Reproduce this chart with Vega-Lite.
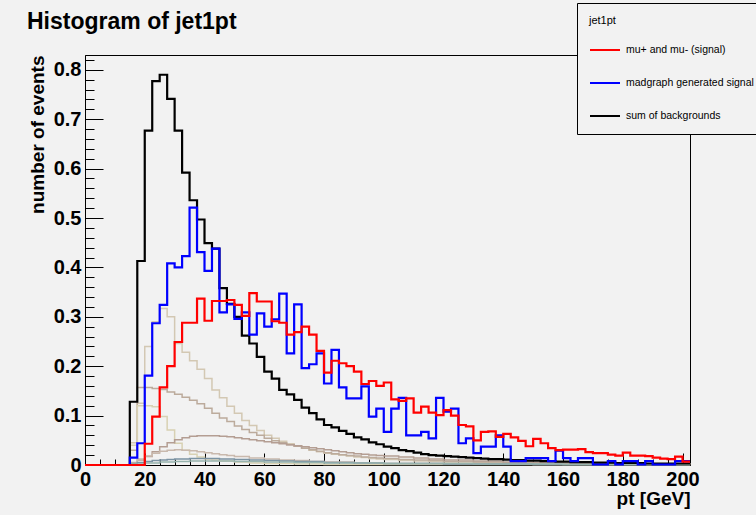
{
  "$schema": "https://vega.github.io/schema/vega-lite/v6.json",
  "width": 605,
  "height": 410,
  "autosize": "none",
  "padding": {"left": 85, "top": 55, "right": 66, "bottom": 50},
  "background": "#f2f2f2",
  "config": {
    "view": {"stroke": "black", "strokeWidth": 1, "fill": "#f2f2f2"},
    "font": "Liberation Sans",
    "axis": {"grid": false, "domainColor": "black", "tickColor": "black", "labelColor": "black", "titleColor": "black", "labelFont": "Liberation Sans", "titleFont": "Liberation Sans", "labelFontWeight": "bold", "titleFontWeight": "bold"}
  },
  "title": {"text": "Histogram of jet1pt", "anchor": "start", "frame": "group", "dx": -58, "dy": 52, "offset": 21, "fontSize": 23, "fontWeight": "bold", "font": "Liberation Sans", "color": "black"},
  "datasets": {
    "red": [
      {"x":0,"v":0},{"x":20,"v":0.043},{"x":22.5,"v":0.098},{"x":25,"v":0.157},{"x":27.5,"v":0.200},{"x":30,"v":0.249},{"x":32.5,"v":0.288},{"x":35,"v":0.288},{"x":37.5,"v":0.337},{"x":40,"v":0.292},{"x":42.5,"v":0.332},{"x":45,"v":0.332},{"x":47.5,"v":0.334},{"x":50,"v":0.324},{"x":52.5,"v":0.302},{"x":55,"v":0.348},{"x":57.5,"v":0.331},{"x":60,"v":0.331},{"x":62.5,"v":0.291},{"x":65,"v":0.288},{"x":67.5,"v":0.264},{"x":70,"v":0.269},{"x":72.5,"v":0.280},{"x":75,"v":0.264},{"x":77.5,"v":0.231},{"x":80,"v":0.187},{"x":82.5,"v":0.211},{"x":85,"v":0.206},{"x":87.5,"v":0.200},{"x":90,"v":0.189},{"x":92.5,"v":0.164},{"x":95,"v":0.170},{"x":97.5,"v":0.160},{"x":100,"v":0.167},{"x":102.5,"v":0.133},{"x":105,"v":0.130},{"x":107.5,"v":0.135},{"x":110,"v":0.106},{"x":112.5,"v":0.118},{"x":115,"v":0.106},{"x":117.5,"v":0.101},{"x":120,"v":0.111},{"x":122.5,"v":0.100},{"x":125,"v":0.081},{"x":127.5,"v":0.078},{"x":130,"v":0.050},{"x":132.5,"v":0.067},{"x":135,"v":0.068},{"x":137.5,"v":0.057},{"x":140,"v":0.063},{"x":142.5,"v":0.056},{"x":145,"v":0.049},{"x":147.5,"v":0.038},{"x":150,"v":0.053},{"x":152.5,"v":0.044},{"x":155,"v":0.034},{"x":157.5,"v":0.030},{"x":160,"v":0.031},{"x":162.5,"v":0.031},{"x":165,"v":0.032},{"x":167.5,"v":0.026},{"x":170,"v":0.024},{"x":172.5,"v":0.024},{"x":175,"v":0.021},{"x":177.5,"v":0.019},{"x":180,"v":0.025},{"x":182.5,"v":0.019},{"x":185,"v":0.019},{"x":187.5,"v":0.018},{"x":190,"v":0.015},{"x":192.5,"v":0.013},{"x":195,"v":0.012},{"x":197.5,"v":0.017},{"x":200,"v":0.007},{"x":202.5,"v":0.007}
    ],
    "blue": [
      {"x":0,"v":0},{"x":15,"v":0.015},{"x":17.5,"v":0.044},{"x":20,"v":0.181},{"x":22.5,"v":0.287},{"x":25,"v":0.324},{"x":27.5,"v":0.408},{"x":30,"v":0.400},{"x":32.5,"v":0.423},{"x":35,"v":0.521},{"x":37.5,"v":0.431},{"x":40,"v":0.393},{"x":42.5,"v":0.438},{"x":45,"v":0.309},{"x":47.5,"v":0.325},{"x":50,"v":0.296},{"x":52.5,"v":0.309},{"x":55,"v":0.264},{"x":57.5,"v":0.307},{"x":60,"v":0.280},{"x":62.5,"v":0.295},{"x":65,"v":0.347},{"x":67.5,"v":0.226},{"x":70,"v":0.325},{"x":72.5,"v":0.196},{"x":75,"v":0.204},{"x":77.5,"v":0.226},{"x":80,"v":0.165},{"x":82.5,"v":0.233},{"x":85,"v":0.157},{"x":87.5,"v":0.135},{"x":90,"v":0.135},{"x":92.5,"v":0.159},{"x":95,"v":0.098},{"x":97.5,"v":0.114},{"x":100,"v":0.067},{"x":102.5,"v":0.114},{"x":105,"v":0.136},{"x":107.5,"v":0.060},{"x":110,"v":0.060},{"x":112.5,"v":0.067},{"x":115,"v":0.054},{"x":117.5,"v":0.136},{"x":120,"v":0.108},{"x":122.5,"v":0.114},{"x":125,"v":0.044},{"x":127.5,"v":0.054},{"x":130,"v":0.024},{"x":132.5,"v":0.037},{"x":135,"v":0.037},{"x":137.5,"v":0.060},{"x":140,"v":0.037},{"x":142.5,"v":0.008},{"x":145,"v":0.008},{"x":147.5,"v":0.014},{"x":150,"v":0.014},{"x":152.5,"v":0.014},{"x":155,"v":0.008},{"x":157.5,"v":0.029},{"x":160,"v":0.014},{"x":162.5,"v":0.008},{"x":165,"v":0.014},{"x":167.5,"v":0.014},{"x":170,"v":0.001},{"x":172.5,"v":0.001},{"x":175,"v":0.008},{"x":177.5,"v":0.001},{"x":180,"v":0.008},{"x":182.5,"v":0.008},{"x":185,"v":0.001},{"x":187.5,"v":0.008},{"x":190,"v":0.001},{"x":192.5,"v":0.001},{"x":195,"v":0.001},{"x":197.5,"v":0.008},{"x":200,"v":0.008},{"x":202.5,"v":0.008}
    ],
    "black": [
      {"x":0,"v":0},{"x":15,"v":0.128},{"x":17.5,"v":0.413},{"x":20,"v":0.677},{"x":22.5,"v":0.777},{"x":25,"v":0.790},{"x":27.5,"v":0.741},{"x":30,"v":0.677},{"x":32.5,"v":0.592},{"x":35,"v":0.536},{"x":37.5,"v":0.497},{"x":40,"v":0.449},{"x":42.5,"v":0.438},{"x":45,"v":0.358},{"x":47.5,"v":0.326},{"x":50,"v":0.300},{"x":52.5,"v":0.262},{"x":55,"v":0.246},{"x":57.5,"v":0.219},{"x":60,"v":0.189},{"x":62.5,"v":0.175},{"x":65,"v":0.152},{"x":67.5,"v":0.143},{"x":70,"v":0.132},{"x":72.5,"v":0.116},{"x":75,"v":0.105},{"x":77.5,"v":0.0925},{"x":80,"v":0.081},{"x":82.5,"v":0.076},{"x":85,"v":0.069},{"x":87.5,"v":0.063},{"x":90,"v":0.056},{"x":92.5,"v":0.052},{"x":95,"v":0.046},{"x":97.5,"v":0.042},{"x":100,"v":0.037},{"x":102.5,"v":0.034},{"x":105,"v":0.030},{"x":107.5,"v":0.028},{"x":110,"v":0.025},{"x":112.5,"v":0.022},{"x":115,"v":0.020},{"x":117.5,"v":0.019},{"x":120,"v":0.018},{"x":122.5,"v":0.017},{"x":125,"v":0.016},{"x":127.5,"v":0.015},{"x":130,"v":0.014},{"x":132.5,"v":0.013},{"x":135,"v":0.012},{"x":137.5,"v":0.012},{"x":140,"v":0.011},{"x":142.5,"v":0.010},{"x":145,"v":0.010},{"x":147.5,"v":0.009},{"x":150,"v":0.009},{"x":152.5,"v":0.008},{"x":155,"v":0.008},{"x":157.5,"v":0.007},{"x":160,"v":0.007},{"x":162.5,"v":0.006},{"x":165,"v":0.006},{"x":167.5,"v":0.006},{"x":170,"v":0.005},{"x":172.5,"v":0.005},{"x":175,"v":0.005},{"x":177.5,"v":0.004},{"x":180,"v":0.004},{"x":182.5,"v":0.004},{"x":185,"v":0.004},{"x":187.5,"v":0.003},{"x":190,"v":0.003},{"x":192.5,"v":0.003},{"x":195,"v":0.003},{"x":197.5,"v":0.003},{"x":200,"v":0.003},{"x":202.5,"v":0.003}
    ],
    "bkg": [
      {"b":"b1","x":0,"v":0},{"b":"b1","x":15,"v":0.045},{"b":"b1","x":17.5,"v":0.125},{"b":"b1","x":20,"v":0.24},{"b":"b1","x":22.5,"v":0.29},{"b":"b1","x":25,"v":0.317},{"b":"b1","x":27.5,"v":0.300},{"b":"b1","x":30,"v":0.246},{"b":"b1","x":32.5,"v":0.228},{"b":"b1","x":35,"v":0.211},{"b":"b1","x":37.5,"v":0.194},{"b":"b1","x":40,"v":0.175},{"b":"b1","x":42.5,"v":0.152},{"b":"b1","x":45,"v":0.136},{"b":"b1","x":47.5,"v":0.119},{"b":"b1","x":50,"v":0.105},{"b":"b1","x":52.5,"v":0.090},{"b":"b1","x":55,"v":0.080},{"b":"b1","x":57.5,"v":0.070},{"b":"b1","x":60,"v":0.060},{"b":"b1","x":62.5,"v":0.054},{"b":"b1","x":65,"v":0.048},{"b":"b1","x":67.5,"v":0.043},{"b":"b1","x":70,"v":0.039},{"b":"b1","x":72.5,"v":0.034},{"b":"b1","x":75,"v":0.030},{"b":"b1","x":77.5,"v":0.027},{"b":"b1","x":80,"v":0.024},{"b":"b1","x":82.5,"v":0.022},{"b":"b1","x":85,"v":0.020},{"b":"b1","x":87.5,"v":0.018},{"b":"b1","x":90,"v":0.016},{"b":"b1","x":92.5,"v":0.015},{"b":"b1","x":95,"v":0.013},{"b":"b1","x":97.5,"v":0.012},{"b":"b1","x":100,"v":0.011},{"b":"b1","x":105,"v":0.009},{"b":"b1","x":110,"v":0.008},{"b":"b1","x":115,"v":0.007},{"b":"b1","x":120,"v":0.006},{"b":"b1","x":130,"v":0.005},{"b":"b1","x":140,"v":0.004},{"b":"b1","x":150,"v":0.003},{"b":"b1","x":170,"v":0.002},{"b":"b1","x":202.5,"v":0.002},
      {"b":"b2","x":0,"v":0},{"b":"b2","x":15,"v":0.03},{"b":"b2","x":17.5,"v":0.157},{"b":"b2","x":20,"v":0.157},{"b":"b2","x":22.5,"v":0.155},{"b":"b2","x":25,"v":0.153},{"b":"b2","x":27.5,"v":0.148},{"b":"b2","x":30,"v":0.143},{"b":"b2","x":32.5,"v":0.137},{"b":"b2","x":35,"v":0.131},{"b":"b2","x":37.5,"v":0.124},{"b":"b2","x":40,"v":0.115},{"b":"b2","x":42.5,"v":0.105},{"b":"b2","x":45,"v":0.095},{"b":"b2","x":47.5,"v":0.088},{"b":"b2","x":50,"v":0.079},{"b":"b2","x":52.5,"v":0.072},{"b":"b2","x":55,"v":0.066},{"b":"b2","x":57.5,"v":0.060},{"b":"b2","x":60,"v":0.054},{"b":"b2","x":62.5,"v":0.049},{"b":"b2","x":65,"v":0.045},{"b":"b2","x":67.5,"v":0.041},{"b":"b2","x":70,"v":0.038},{"b":"b2","x":72.5,"v":0.034},{"b":"b2","x":75,"v":0.031},{"b":"b2","x":77.5,"v":0.028},{"b":"b2","x":80,"v":0.025},{"b":"b2","x":82.5,"v":0.023},{"b":"b2","x":85,"v":0.021},{"b":"b2","x":87.5,"v":0.019},{"b":"b2","x":90,"v":0.018},{"b":"b2","x":92.5,"v":0.016},{"b":"b2","x":95,"v":0.015},{"b":"b2","x":97.5,"v":0.014},{"b":"b2","x":100,"v":0.013},{"b":"b2","x":105,"v":0.011},{"b":"b2","x":110,"v":0.010},{"b":"b2","x":115,"v":0.009},{"b":"b2","x":120,"v":0.007},{"b":"b2","x":130,"v":0.006},{"b":"b2","x":140,"v":0.004},{"b":"b2","x":150,"v":0.003},{"b":"b2","x":170,"v":0.002},{"b":"b2","x":202.5,"v":0.001},
      {"b":"b3","x":0,"v":0},{"b":"b3","x":15,"v":0.04},{"b":"b3","x":17.5,"v":0.12},{"b":"b3","x":20,"v":0.12},{"b":"b3","x":22.5,"v":0.118},{"b":"b3","x":25,"v":0.098},{"b":"b3","x":27.5,"v":0.071},{"b":"b3","x":30,"v":0.044},{"b":"b3","x":32.5,"v":0.030},{"b":"b3","x":35,"v":0.022},{"b":"b3","x":37.5,"v":0.016},{"b":"b3","x":40,"v":0.012},{"b":"b3","x":42.5,"v":0.010},{"b":"b3","x":45,"v":0.008},{"b":"b3","x":50,"v":0.006},{"b":"b3","x":55,"v":0.004},{"b":"b3","x":60,"v":0.003},{"b":"b3","x":70,"v":0.002},{"b":"b3","x":80,"v":0.001},{"b":"b3","x":202.5,"v":0.001},
      {"b":"b4","x":0,"v":0},{"b":"b4","x":15,"v":0.004},{"b":"b4","x":17.5,"v":0.010},{"b":"b4","x":20,"v":0.017},{"b":"b4","x":22.5,"v":0.027},{"b":"b4","x":25,"v":0.037},{"b":"b4","x":27.5,"v":0.045},{"b":"b4","x":30,"v":0.051},{"b":"b4","x":32.5,"v":0.055},{"b":"b4","x":35,"v":0.058},{"b":"b4","x":37.5,"v":0.059},{"b":"b4","x":40,"v":0.059},{"b":"b4","x":42.5,"v":0.059},{"b":"b4","x":45,"v":0.058},{"b":"b4","x":47.5,"v":0.057},{"b":"b4","x":50,"v":0.055},{"b":"b4","x":52.5,"v":0.053},{"b":"b4","x":55,"v":0.051},{"b":"b4","x":57.5,"v":0.049},{"b":"b4","x":60,"v":0.047},{"b":"b4","x":62.5,"v":0.045},{"b":"b4","x":65,"v":0.043},{"b":"b4","x":67.5,"v":0.041},{"b":"b4","x":70,"v":0.039},{"b":"b4","x":72.5,"v":0.037},{"b":"b4","x":75,"v":0.035},{"b":"b4","x":77.5,"v":0.033},{"b":"b4","x":80,"v":0.031},{"b":"b4","x":82.5,"v":0.029},{"b":"b4","x":85,"v":0.027},{"b":"b4","x":87.5,"v":0.025},{"b":"b4","x":90,"v":0.023},{"b":"b4","x":92.5,"v":0.022},{"b":"b4","x":95,"v":0.020},{"b":"b4","x":97.5,"v":0.019},{"b":"b4","x":100,"v":0.018},{"b":"b4","x":105,"v":0.016},{"b":"b4","x":110,"v":0.014},{"b":"b4","x":115,"v":0.012},{"b":"b4","x":120,"v":0.010},{"b":"b4","x":130,"v":0.008},{"b":"b4","x":140,"v":0.006},{"b":"b4","x":150,"v":0.005},{"b":"b4","x":160,"v":0.004},{"b":"b4","x":170,"v":0.003},{"b":"b4","x":185,"v":0.002},{"b":"b4","x":202.5,"v":0.002},
      {"b":"b5","x":0,"v":0},{"b":"b5","x":15,"v":0.005},{"b":"b5","x":17.5,"v":0.012},{"b":"b5","x":20,"v":0.018},{"b":"b5","x":22.5,"v":0.024},{"b":"b5","x":25,"v":0.028},{"b":"b5","x":27.5,"v":0.030},{"b":"b5","x":30,"v":0.031},{"b":"b5","x":32.5,"v":0.030},{"b":"b5","x":35,"v":0.029},{"b":"b5","x":37.5,"v":0.027},{"b":"b5","x":40,"v":0.025},{"b":"b5","x":42.5,"v":0.023},{"b":"b5","x":45,"v":0.021},{"b":"b5","x":47.5,"v":0.019},{"b":"b5","x":50,"v":0.017},{"b":"b5","x":55,"v":0.014},{"b":"b5","x":60,"v":0.012},{"b":"b5","x":65,"v":0.010},{"b":"b5","x":70,"v":0.009},{"b":"b5","x":75,"v":0.007},{"b":"b5","x":80,"v":0.006},{"b":"b5","x":90,"v":0.004},{"b":"b5","x":100,"v":0.003},{"b":"b5","x":120,"v":0.002},{"b":"b5","x":150,"v":0.001},{"b":"b5","x":202.5,"v":0.001},
      {"b":"b6","x":0,"v":0},{"b":"b6","x":15,"v":0.003},{"b":"b6","x":17.5,"v":0.005},{"b":"b6","x":20,"v":0.007},{"b":"b6","x":22.5,"v":0.009},{"b":"b6","x":25,"v":0.010},{"b":"b6","x":27.5,"v":0.011},{"b":"b6","x":30,"v":0.012},{"b":"b6","x":35,"v":0.013},{"b":"b6","x":40,"v":0.013},{"b":"b6","x":45,"v":0.012},{"b":"b6","x":50,"v":0.011},{"b":"b6","x":55,"v":0.010},{"b":"b6","x":60,"v":0.009},{"b":"b6","x":65,"v":0.008},{"b":"b6","x":70,"v":0.007},{"b":"b6","x":80,"v":0.005},{"b":"b6","x":90,"v":0.004},{"b":"b6","x":100,"v":0.003},{"b":"b6","x":120,"v":0.002},{"b":"b6","x":150,"v":0.001},{"b":"b6","x":202.5,"v":0.001},
      {"b":"b7","x":0,"v":0},{"b":"b7","x":15,"v":0.002},{"b":"b7","x":20,"v":0.004},{"b":"b7","x":25,"v":0.006},{"b":"b7","x":30,"v":0.007},{"b":"b7","x":35,"v":0.008},{"b":"b7","x":40,"v":0.008},{"b":"b7","x":50,"v":0.007},{"b":"b7","x":60,"v":0.006},{"b":"b7","x":70,"v":0.005},{"b":"b7","x":80,"v":0.004},{"b":"b7","x":100,"v":0.003},{"b":"b7","x":130,"v":0.002},{"b":"b7","x":160,"v":0.001},{"b":"b7","x":202.5,"v":0.001}
    ]
  },
  "encoding": {
    "x": {
      "field": "x", "type": "quantitative",
      "scale": {"domain": [0, 202.5], "nice": false, "zero": false},
      "axis": {
        "title": "pt [GeV]", "titleAnchor": "end", "titleFontSize": 19, "titlePadding": -6,
        "values": [0,5,10,15,20,25,30,35,40,45,50,55,60,65,70,75,80,85,90,95,100,105,110,115,120,125,130,135,140,145,150,155,160,165,170,175,180,185,190,195,200],
        "labelExpr": "datum.value % 20 === 0 ? format(datum.value, 'd') : ''",
        "labelFontSize": 20, "labelPadding": 16, "labelFlush": false, "labelOverlap": false,
        "tickSize": {"condition": {"test": "datum.value % 20 === 0", "value": -12}, "value": -6}
      }
    },
    "y": {
      "field": "v", "type": "quantitative",
      "scale": {"domain": [0, 0.83], "nice": false},
      "axis": {
        "title": "number of events", "titleAnchor": "end", "titleFontSize": 19, "titlePadding": 6,
        "values": [0,0.02,0.04,0.06,0.08,0.1,0.12,0.14,0.16,0.18,0.2,0.22,0.24,0.26,0.28,0.3,0.32,0.34,0.36,0.38,0.4,0.42,0.44,0.46,0.48,0.5,0.52,0.54,0.56,0.58,0.6,0.62,0.64,0.66,0.68,0.7,0.72,0.74,0.76,0.78,0.8,0.82],
        "labelExpr": "abs(datum.value*10 - round(datum.value*10)) < 0.001 ? format(datum.value, '.1~f') : ''",
        "labelFontSize": 20, "labelPadding": 22, "labelFlush": false, "labelOverlap": false,
        "tickSize": {"condition": {"test": "abs(datum.value*10 - round(datum.value*10)) < 0.001", "value": -18}, "value": -9}
      }
    }
  },
  "layer": [
    {
      "data": {"name": "bkg"},
      "mark": {"type": "line", "interpolate": "step-after", "strokeWidth": 1.5},
      "encoding": {
        "stroke": {"field": "b", "type": "nominal", "legend": null,
          "scale": {"domain": ["b1","b2","b3","b4","b5","b6","b7"], "range": ["#d3c8b3","#bcab9c","#d8d1b3","#b49e93","#c9b9ad","#7b93a3","#97b3ad"]}}
      }
    },
    {
      "data": {"name": "black"},
      "mark": {"type": "line", "interpolate": "step-after", "strokeWidth": 2.2},
      "encoding": {"color": {"datum": "sum of backgrounds", "type": "nominal",
        "scale": {"domain": ["mu+ and mu- (signal)", "madgraph generated signal", "sum of backgrounds"], "range": ["#ff0000", "#0000ff", "#000000"]},
        "legend": {
          "orient": "none", "legendX": 492, "legendY": -52, "direction": "vertical",
          "title": "jet1pt", "titleFontSize": 11, "titleFontWeight": "normal", "titleFont": "Liberation Sans", "titleColor": "black", "titlePadding": 8,
          "labelFontSize": 10.5, "labelFont": "Liberation Sans", "labelColor": "black", "labelOffset": 5, "labelLimit": 300,
          "symbolType": "stroke", "symbolSize": 900, "symbolStrokeWidth": 2, "rowPadding": 11,
          "fillColor": "#f2f2f2", "strokeColor": "black", "padding": 12
        }}}
    },
    {
      "data": {"name": "blue"},
      "mark": {"type": "line", "interpolate": "step-after", "strokeWidth": 2.2},
      "encoding": {"color": {"datum": "madgraph generated signal", "type": "nominal"}}
    },
    {
      "data": {"name": "red"},
      "mark": {"type": "line", "interpolate": "step-after", "strokeWidth": 2.2},
      "encoding": {"color": {"datum": "mu+ and mu- (signal)", "type": "nominal"}}
    }
  ]
}
